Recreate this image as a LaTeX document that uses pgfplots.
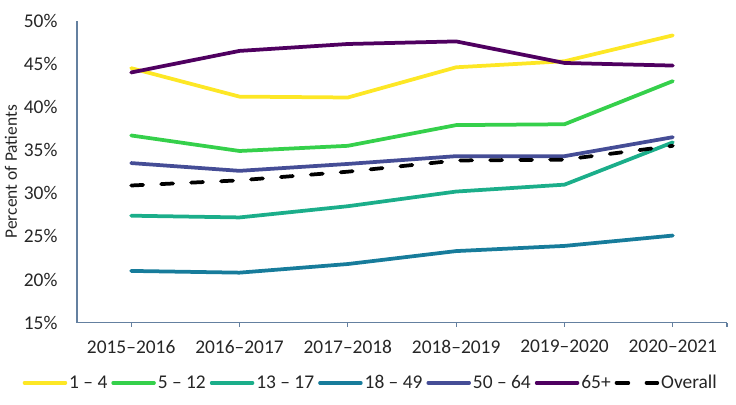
\documentclass[border=0pt]{standalone}
\usepackage{fontspec}
\setmainfont{Carlito}
\usepackage{pgfplots}
\pgfplotsset{compat=1.18}

\definecolor{cA}{HTML}{FDE725}
\definecolor{cB}{HTML}{35D04B}
\definecolor{cC}{HTML}{1BAE8A}
\definecolor{cD}{HTML}{177C9B}
\definecolor{cE}{HTML}{454D96}
\definecolor{cF}{HTML}{4F0060}
\definecolor{axcol}{HTML}{6480A0}

\begin{document}
\begin{tikzpicture}
\begin{axis}[
    scale only axis,
    width=650bp, height=302bp,
    xmin=-0.5, xmax=5.5,
    ymin=15, ymax=50,
    axis x line*=bottom,
    axis y line*=left,
    axis line style={axcol, line width=1.1bp},
    xtick={0,1,2,3,4,5},
    extra x ticks={5.5},
    extra x tick labels={},
    xticklabels={2015–2016,2016–2017,2017–2018,2018–2019,2019–2020,2020–2021},
    ytick={15,20,...,50},
    yticklabel={\pgfmathprintnumber{\tick}\%},
    /pgf/number format/assume math mode=true,
    tick align=outside,
    major tick length=4bp,
    x tick style={axcol, line width=1.1bp},
    y tick style={draw=none},
    ticklabel style={font=\fontsize{19.5}{23}\selectfont, text=black!85},
    yticklabel style={xshift=-12bp},
    xticklabel style={yshift=-10bp},
    ylabel={Percent of Patients},
    ylabel style={at={(axis description cs:-0.1015,0.5)}, anchor=center,
        font=\fontsize{17.5}{20}\selectfont, text=black!85},
    legend columns=7,
    legend style={draw=none, fill=none, at={(axis description cs:0.452,-0.199)}, anchor=center,
        font=\fontsize{19.5}{23}\selectfont, text=black!85, inner sep=0pt,
        /tikz/every even column/.append style={column sep=2bp}},
    legend image code/.code={\draw[#1, line width=3.5bp] (0bp,0bp) -- (41bp,0bp);},
    every axis plot/.append style={line width=3.75bp, line cap=round, line join=round, mark=none},
]
\addplot[cA] coordinates {(0,44.5) (1,41.2) (2,41.1) (3,44.6) (4,45.3) (5,48.3)};
\addlegendentry{1 – 4}
\addplot[cB] coordinates {(0,36.7) (1,34.9) (2,35.5) (3,37.9) (4,38.0) (5,43.0)};
\addlegendentry{5 – 12}
\addplot[cC] coordinates {(0,27.4) (1,27.2) (2,28.5) (3,30.2) (4,31.0) (5,35.9)};
\addlegendentry{13 – 17}
\addplot[cD] coordinates {(0,21.0) (1,20.8) (2,21.8) (3,23.3) (4,23.9) (5,25.1)};
\addlegendentry{18 – 49}
\addplot[cE] coordinates {(0,33.5) (1,32.6) (2,33.4) (3,34.3) (4,34.3) (5,36.5)};
\addlegendentry{50 – 64}
\addplot[cF] coordinates {(0,44.0) (1,46.5) (2,47.3) (3,47.6) (4,45.1) (5,44.8)};
\addlegendentry{65+}
\addplot[black, dash pattern=on 12bp off 18bp] coordinates {(0,30.9) (1,31.5) (2,32.5) (3,33.8) (4,33.9) (5,35.5)};
\addlegendentry{Overall}
\end{axis}
\pgfresetboundingbox
\path (-77bp,-82.3bp) rectangle (659bp,322.7bp);
\end{tikzpicture}
\end{document}
